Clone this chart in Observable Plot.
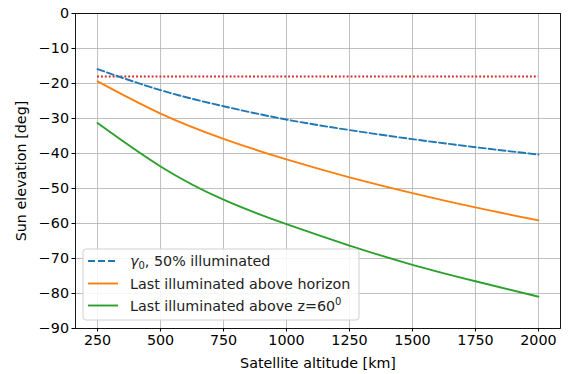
<!DOCTYPE html>
<html>
<head>
<meta charset="utf-8">
<script src="https://cdn.jsdelivr.net/npm/d3@7"></script>
<script src="https://cdn.jsdelivr.net/npm/@observablehq/plot@0.6"></script>
<style>
  html, body { margin: 0; padding: 0; background: #fff; }
  #chart { position: relative; width: 568px; height: 374px; }
</style>
</head>
<body>
<div id="chart"></div>
<script>
const altitudes = [250, 500, 750, 1000, 1250, 1500, 1750, 2000];
const gamma0 = [-15.9, -21.9, -26.5, -30.3, -33.3, -35.9, -38.2, -40.3];
const lastHorizon = [-19.4, -28.6, -35.8, -41.7, -46.8, -51.3, -55.4, -59.1];
const lastZ60 = [-31.3, -43.7, -53.2, -60.2, -66.3, -71.8, -76.5, -80.9];
const twilight = -18;
const xTicks = [250, 500, 750, 1000, 1250, 1500, 1750, 2000];
const yTicks = [0, -10, -20, -30, -40, -50, -60, -70, -80, -90];
const seriesNames = ["γ0, 50% illuminated", "Last illuminated above horizon", "Last illuminated above z=60"];
const colors = ["#1f77b4", "#ff7f0e", "#2ca02c"];

const series = [gamma0, lastHorizon, lastZ60];
const data = [];
series.forEach((vals, i) => altitudes.forEach((a, j) => data.push({alt: a, elev: vals[j], s: seriesNames[i]})));

const font = "DejaVu Sans, sans-serif";
const fs = 14.3;
const lw = 1.9;
const dash = "7,3";
const svg = Plot.plot({
  width: 568, height: 374,
  marginLeft: 75, marginRight: 8, marginTop: 13, marginBottom: 46,
  style: {fontFamily: font, fontSize: fs + "px", color: "#000", background: "#fff"},
  x: {domain: [162.5, 2087.5]},
  y: {domain: [-90, 0]},
  marks: [
    Plot.gridX(xTicks, {stroke: "#b0b0b0", strokeOpacity: 1, strokeWidth: 0.8}),
    Plot.gridY(yTicks, {stroke: "#b0b0b0", strokeOpacity: 1, strokeWidth: 0.8}),
    Plot.ruleY([twilight], {x1: altitudes[0], x2: altitudes[altitudes.length - 1], stroke: "#d62728", strokeWidth: lw, strokeDasharray: "1.9,2"}),
    Plot.line(data.filter(d => d.s === seriesNames[0]), {x: "alt", y: "elev", stroke: colors[0], strokeWidth: lw, strokeDasharray: dash, curve: "natural"}),
    Plot.line(data.filter(d => d.s === seriesNames[1]), {x: "alt", y: "elev", stroke: colors[1], strokeWidth: lw, curve: "natural"}),
    Plot.line(data.filter(d => d.s === seriesNames[2]), {x: "alt", y: "elev", stroke: colors[2], strokeWidth: lw, curve: "natural"}),
    Plot.frame({stroke: "#000", strokeWidth: 0.9}),
    Plot.axisX(xTicks, {tickSize: 3.5, tickPadding: 3, fontSize: fs, tickFormat: d3.format("d"), label: "Satellite altitude [km]", labelAnchor: "center", labelOffset: 39, labelArrow: "none"}),
    Plot.axisY(yTicks, {tickSize: 3.5, tickPadding: 3, fontSize: fs, tickFormat: d3.format("d"), label: "Sun elevation [deg]", labelAnchor: "center", labelOffset: 60, labelArrow: "none"})
  ]
});
document.getElementById("chart").appendChild(svg);
d3.select(svg).selectAll("text").style("font-size", fs + "px");

// Legend (inside plot, lower left)
const g = d3.select(svg).append("g").attr("font-family", font).attr("text-anchor", "start");
g.append("rect").attr("x", 83).attr("y", 249).attr("width", 276).attr("height", 71)
  .attr("rx", 3).attr("fill", "#fff").attr("fill-opacity", 0.85).attr("stroke", "#d0d0d0");
const rowY = [261, 283.5, 305.5];
seriesNames.forEach((name, i) => {
  g.append("line").attr("x1", 88).attr("x2", 118).attr("y1", rowY[i]).attr("y2", rowY[i])
    .attr("stroke", colors[i]).attr("stroke-width", lw)
    .attr("stroke-dasharray", i === 0 ? dash : null);
  const t = g.append("text").attr("x", 130).attr("y", rowY[i]).attr("dy", "0.36em")
    .attr("fill", "#222").attr("text-anchor", "start").style("font-size", fs + "px");
  if (i === 0) {
    t.append("tspan").attr("font-style", "italic").text("γ");
    t.append("tspan").style("font-size", "10px").attr("dy", 3).text("0");
    t.append("tspan").attr("dy", -3).text(", 50% illuminated");
  } else if (i === 1) {
    t.text(name);
  } else {
    t.append("tspan").text("Last illuminated above z=60");
    t.append("tspan").style("font-size", "10px").attr("dy", -6).text("0");
  }
});
</script>
</body>
</html>
